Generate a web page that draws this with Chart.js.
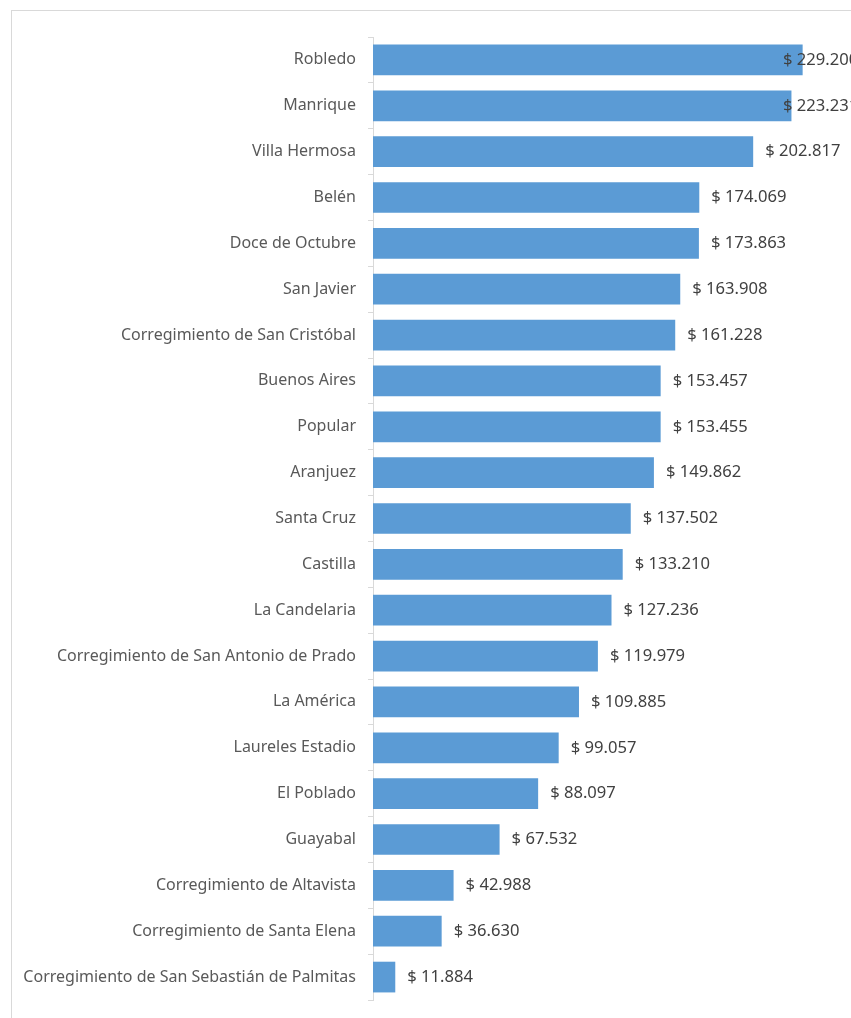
<!DOCTYPE html>
<html>
<head>
<meta charset="utf-8">
<script src="https://cdn.jsdelivr.net/npm/chart.js@4.4.1/dist/chart.umd.min.js"></script>
<style>
  body { margin: 0; overflow: hidden; background: #fff; }
  #marco { position: absolute; left: 11px; top: 10px; width: 1000px; height: 1100px; border: 1px solid #d9d9d9; }
  #caja { position: absolute; left: 0; top: 0; width: 851px; height: 1018px; }
</style>
</head>
<body>
<div id="marco"></div>
<div id="caja"><canvas id="graficoComunas"></canvas></div>
<script>
// Comunas y corregimientos
var comunas = [
  'Robledo', 'Manrique', 'Villa Hermosa', 'Belén', 'Doce de Octubre', 'San Javier',
  'Corregimiento de San Cristóbal', 'Buenos Aires', 'Popular', 'Aranjuez', 'Santa Cruz',
  'Castilla', 'La Candelaria', 'Corregimiento de San Antonio de Prado', 'La América',
  'Laureles Estadio', 'El Poblado', 'Guayabal', 'Corregimiento de Altavista',
  'Corregimiento de Santa Elena', 'Corregimiento de San Sebastián de Palmitas'
];

// Valores (pesos)
var valores = [
  229200, 223231, 202817, 174069, 173863, 163908, 161228, 153457, 153455, 149862, 137502,
  133210, 127236, 119979, 109885, 99057, 88097, 67532, 42988, 36630, 11884
];

var maxEje = 255000;

function formatoPesos(v) {
  return '$ ' + v.toString().replace(/\B(?=(\d{3})+(?!\d))/g, '.');
}

// Etiquetas de datos al final de cada barra
var etiquetas = {
  id: 'etiquetas',
  afterDatasetsDraw: function (chart) {
    var ctx = chart.ctx;
    var meta = chart.getDatasetMeta(0);
    ctx.save();
    ctx.font = '16.6px "Noto Sans"';
    ctx.fillStyle = '#404040';
    ctx.textBaseline = 'middle';
    meta.data.forEach(function (barra, i) {
      var x = Math.min(barra.x + 12, 783);
      ctx.fillText(formatoPesos(valores[i]), x, barra.y);
    });
    ctx.restore();
  }
};

var ctx = document.getElementById('graficoComunas').getContext('2d');
new Chart(ctx, {
  type: 'bar',
  data: {
    labels: comunas,
    datasets: [{
      data: valores,
      backgroundColor: '#5b9bd5',
      borderWidth: 0,
      categoryPercentage: 1,
      barPercentage: 0.67
    }]
  },
  options: {
    indexAxis: 'y',
    responsive: true,
    maintainAspectRatio: false,
    animation: false,
    layout: { padding: { top: 37, bottom: 18, left: 0, right: 0 } },
    scales: {
      x: {
        display: false,
        min: 0,
        max: maxEje
      },
      y: {
        afterFit: function (scale) {
          scale.width = 373;
          scale.paddingTop = 0;
          scale.paddingBottom = 0;
        },
        border: { color: '#d9d9d9', width: 1 },
        grid: { drawOnChartArea: false, tickLength: 5, color: '#d9d9d9' },
        ticks: {
          color: '#595959',
          padding: 12,
          font: { family: 'Noto Sans', size: 16 }
        }
      }
    },
    plugins: {
      legend: { display: false },
      tooltip: { enabled: false }
    }
  },
  plugins: [etiquetas]
});
</script>
</body>
</html>
